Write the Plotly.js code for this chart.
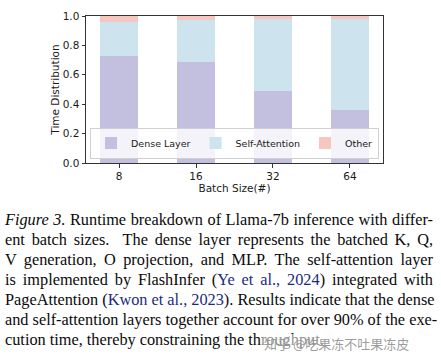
<!DOCTYPE html>
<html>
<head>
<meta charset="utf-8">
<script src="https://cdn.plot.ly/plotly-3.0.1.min.js"></script>
<style>
  html, body { margin: 0; padding: 0; background: #fff; width: 441px; height: 357px; overflow: hidden; }
  #chart { position: absolute; left: 0; top: 0; width: 441px; height: 200px; }
  #caption { position: absolute; left: 5px; top: 210px; width: 428px; font-family: "Liberation Serif", "Times New Roman", serif; font-size: 16.3px; line-height: 20px; color: #0a0a0a; }
  #caption .ln { text-align: justify; text-align-last: justify; white-space: nowrap; }
  #caption .ln.last { text-align-last: left; }
  #caption .cite { color: #1c2a80; }
  #wm { position: absolute; left: 262px; top: 334px; font-family: "Noto Sans CJK SC", sans-serif; font-size: 13px; color: rgba(150,150,150,0.95); background: rgba(255,255,255,0.55); padding: 0 2px; }
</style>
</head>
<body>
<div id="chart"></div>
<div id="caption">
  <div class="ln"><i>Figure 3.</i> Runtime breakdown of Llama-7b inference with differ-</div>
  <div class="ln">ent batch sizes.&nbsp; The dense layer represents the batched K, Q,</div>
  <div class="ln">V generation, O projection, and MLP. The self-attention layer</div>
  <div class="ln">is implemented by FlashInfer (<span class="cite">Ye et al., 2024</span>) integrated with</div>
  <div class="ln">PageAttention (<span class="cite">Kwon et al., 2023</span>). Results indicate that the dense</div>
  <div class="ln">and self-attention layers together account for over 90% of the exe-</div>
  <div class="ln last">cution time, thereby constraining the throughput.</div>
</div>
<div id="wm">知乎 @吃果冻不吐果冻皮</div>
<script>
const categories = ["8", "16", "32", "64"];
const denseLayer = [0.728, 0.689, 0.492, 0.363];
const selfAttention = [0.232, 0.281, 0.486, 0.619];
const other = [0.040, 0.030, 0.022, 0.018];
const seriesNames = ["Dense Layer", "Self-Attention", "Other"];
const yTicks = [0, 0.2, 0.4, 0.6, 0.8, 1.0];

const colors = ["#c3c0df", "#cde3ee", "#f6c6c0"];
const series = [denseLayer, selfAttention, other];
const traces = series.map((vals, i) => ({
  type: "bar",
  x: categories,
  y: vals,
  name: seriesNames[i],
  width: 0.5,
  marker: { color: colors[i], line: { width: 0 } },
  hoverinfo: "skip"
}));

const font = { family: "DejaVu Sans, sans-serif", size: 10.5, color: "#1a1a1a" };
const layout = {
  width: 441, height: 200,
  margin: { l: 86, r: 58, t: 16, b: 37 },
  barmode: "stack",
  paper_bgcolor: "#fff",
  plot_bgcolor: "#fff",
  font: font,
  showlegend: true,
  legend: {
    orientation: "h",
    x: 0.5, y: 0.03, xanchor: "center", yanchor: "bottom",
    bgcolor: "rgba(255,255,255,0.8)",
    bordercolor: "#d0d0d0", borderwidth: 1,
    font: { family: "DejaVu Sans, sans-serif", size: 9.5, color: "#1a1a1a" },
    itemwidth: 30,
    traceorder: "normal",
    tracegroupgap: 0
  },
  xaxis: {
    type: "category",
    categoryorder: "array",
    categoryarray: categories,
    range: [-0.43, 3.43],
    showline: true, mirror: true, linecolor: "#333", linewidth: 1,
    ticks: "outside", ticklen: 3.5, tickcolor: "#333", tickwidth: 1,
    showgrid: false, zeroline: false,
    tickfont: font,
    title: { text: "Batch Size(#)", font: font, standoff: 3 }
  },
  yaxis: {
    range: [0, 1],
    tickvals: yTicks,
    tickformat: ".1f",
    showline: true, mirror: true, linecolor: "#333", linewidth: 1,
    ticks: "outside", ticklen: 3.5, tickcolor: "#333", tickwidth: 1,
    showgrid: false, zeroline: false,
    tickfont: font,
    title: { text: "Time Distribution", font: font, standoff: 1 }
  }
};

Plotly.newPlot("chart", traces, layout, { displayModeBar: false, staticPlot: true });
</script>
</body>
</html>
